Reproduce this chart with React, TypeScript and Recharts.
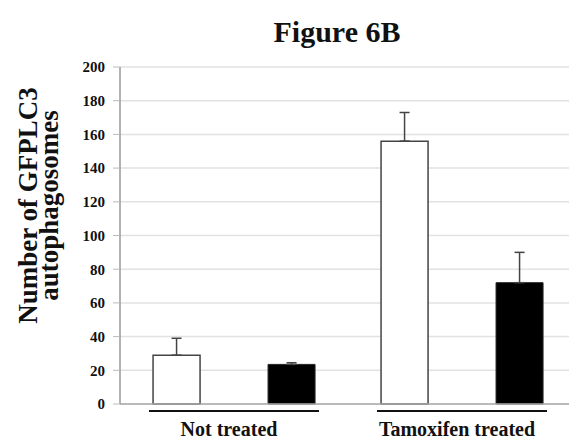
import React from 'react';
import {
  BarChart, Bar, XAxis, YAxis, CartesianGrid, ErrorBar,
} from 'recharts';

const categories = ['Not treated', 'Tamoxifen treated'];
const whiteValues = [29, 156];
const whiteErrors = [10, 17];
const blackValues = [23.5, 72];
const blackErrors = [1, 18];
const yTicks = [0, 20, 40, 60, 80, 100, 120, 140, 160, 180, 200];

const data = categories.map((name, i) => ({
  name,
  white: whiteValues[i],
  whiteErr: [0, whiteErrors[i]],
  black: blackValues[i],
  blackErr: [0, blackErrors[i]],
}));

const FONT = '"Liberation Serif", "Times New Roman", serif';

const GroupTick = ({ x, y, payload }: any) => (
  <g>
    <line x1={x - 85} x2={x + 85} y1={y + 7} y2={y + 7} stroke="#111" strokeWidth={2} />
    <text x={x - 5} y={y + 32} textAnchor="middle" fontFamily={FONT} fontWeight="bold" fontSize={20} fill="#111">
      {payload.value}
    </text>
  </g>
);

const YLabel = ({ viewBox }: any) => {
  const cy = viewBox.y + viewBox.height / 2 - 30;
  return (
    <g fontFamily={FONT} fontWeight="bold" fontSize={27} fill="#111">
      <text x={37} y={cy} textAnchor="middle" transform={`rotate(-90, 37, ${cy})`}>Number of GFPLC3</text>
      <text x={58} y={cy} textAnchor="middle" transform={`rotate(-90, 58, ${cy})`}>autophagosomes</text>
    </g>
  );
};

export default function App() {
  return (
    <div style={{ position: 'absolute', left: 0, top: 0, width: 569, height: 439, overflow: 'hidden', background: '#fff' }}>
      <div style={{
        position: 'absolute', left: 237, top: 17, width: 200, textAlign: 'center',
        fontFamily: FONT, fontWeight: 'bold', fontSize: 30, lineHeight: '30px', color: '#111',
      }}>
        Figure 6B
      </div>
      <BarChart
        width={590}
        height={439}
        data={data}
        margin={{ top: 67, right: 14, bottom: 0, left: 60 }}
        barCategoryGap="14.5%"
        barGap={68}
      >
        <CartesianGrid vertical={false} stroke="#e2e2e2" strokeWidth={1.5} />
        <XAxis
          dataKey="name"
          height={35}
          tickSize={0}
          tickMargin={0}
          axisLine={{ stroke: '#aaa', strokeWidth: 1.5 }}
          tickLine={false}
          tick={<GroupTick />}
        />
        <YAxis
          width={60}
          domain={[0, 200]}
          ticks={yTicks}
          interval={0}
          tickSize={7}
          tickMargin={8}
          axisLine={{ stroke: '#999', strokeWidth: 1.5 }}
          tickLine={{ stroke: '#bbb' }}
          tick={{ fontFamily: FONT, fontWeight: 'bold', fontSize: 15, fill: '#111' }}
          label={<YLabel />}
        />
        <Bar dataKey="white" fill="#fff" stroke="#444" strokeWidth={1.5} isAnimationActive={false}>
          <ErrorBar dataKey="whiteErr" direction="y" width={5} stroke="#444" strokeWidth={1.5} />
        </Bar>
        <Bar dataKey="black" fill="#000" stroke="#222" strokeWidth={1} isAnimationActive={false}>
          <ErrorBar dataKey="blackErr" direction="y" width={5} stroke="#444" strokeWidth={1.5} />
        </Bar>
      </BarChart>
    </div>
  );
}
